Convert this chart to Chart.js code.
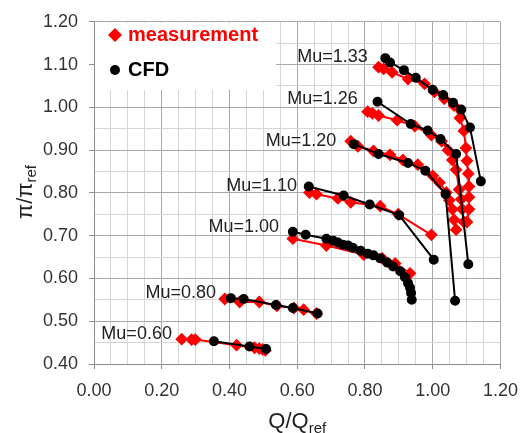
<!DOCTYPE html>
<html>
<head>
<meta charset="utf-8">
<script src="https://cdn.jsdelivr.net/npm/chart.js@4.4.0/dist/chart.umd.min.js"></script>
<style>
html, body { margin: 0; padding: 0; background: #fff; }
</style>
</head>
<body>
<canvas id="mapChart" width="529" height="433"></canvas>
<script>
// speed lines, [Q/Qref, pi/piref] pairs
var speedLines = ['Mu=0.60', 'Mu=0.80', 'Mu=1.00', 'Mu=1.10', 'Mu=1.20', 'Mu=1.26', 'Mu=1.33'];

var meas060 = [[0.259,0.458],[0.288,0.457],[0.299,0.457],[0.421,0.444],[0.474,0.438],[0.488,0.436],[0.498,0.434],[0.506,0.432]];
var meas080 = [[0.386,0.552],[0.430,0.545],[0.488,0.545],[0.540,0.536],[0.590,0.531],[0.619,0.527],[0.657,0.518]];
var meas100 = [[0.587,0.693],[0.686,0.677],[0.796,0.656],[0.851,0.647],[0.889,0.635],[0.933,0.612]];
var meas110 = [[0.636,0.801],[0.657,0.797],[0.720,0.787],[0.758,0.778],[0.845,0.769],[0.898,0.750],[0.996,0.702]];
var meas120 = [[0.758,0.921],[0.779,0.909],[0.825,0.898],[0.874,0.889],[0.912,0.877],[0.956,0.866],[1.000,0.840],[1.020,0.824],[1.040,0.801],[1.049,0.783],[1.058,0.762],[1.063,0.737],[1.069,0.714]];
var meas126 = [[0.808,0.990],[0.822,0.986],[0.840,0.981],[0.895,0.970],[0.947,0.956],[0.996,0.935],[1.026,0.921],[1.045,0.900],[1.058,0.877],[1.069,0.854],[1.078,0.808],[1.084,0.785],[1.087,0.762],[1.092,0.732]];
var meas133 = [[0.840,1.094],[0.855,1.090],[0.880,1.082],[0.927,1.066],[0.976,1.055],[1.005,1.036],[1.034,1.020],[1.063,1.004],[1.080,0.975],[1.092,0.945],[1.098,0.905],[1.101,0.875],[1.105,0.845],[1.107,0.815],[1.107,0.790],[1.107,0.762],[1.101,0.732]];

var cfd060 = [[0.354,0.453],[0.459,0.441],[0.508,0.435]];
var cfd080 = [[0.404,0.554],[0.442,0.552],[0.537,0.538],[0.587,0.531],[0.660,0.518]];
var cfd100 = [[0.587,0.709],[0.625,0.702],[0.686,0.693],[0.706,0.688],[0.720,0.684],[0.735,0.679],[0.750,0.677],[0.764,0.672],[0.787,0.665],[0.808,0.658],[0.825,0.654],[0.845,0.647],[0.866,0.637],[0.883,0.628],[0.904,0.617],[0.918,0.603],[0.927,0.589],[0.933,0.578],[0.936,0.566],[0.938,0.550]];
var cfd110 = [[0.634,0.815],[0.737,0.794],[0.814,0.773],[0.901,0.748],[1.003,0.644]];
var cfd120 = [[0.767,0.914],[0.840,0.891],[0.927,0.870],[0.978,0.852],[1.038,0.797],[1.066,0.548]];
var cfd126 = [[0.837,1.013],[0.935,0.961],[0.985,0.946],[1.023,0.926],[1.069,0.891],[1.105,0.633]];
var cfd133 = [[0.860,1.115],[0.874,1.105],[0.915,1.087],[0.950,1.069],[1.000,1.041],[1.031,1.029],[1.060,1.011],[1.084,0.995],[1.110,0.953],[1.142,0.827]];

var measSets = [meas060, meas080, meas100, meas110, meas120, meas126, meas133];
var cfdSets = [cfd060, cfd080, cfd100, cfd110, cfd120, cfd126, cfd133];

// where each "Mu=" label sits (right end of text, middle), in axis units
var labelQ  = [0.230, 0.360, 0.546, 0.599, 0.715, 0.779, 0.808];
var labelPi = [0.469, 0.566, 0.720, 0.815, 0.921, 1.020, 1.117];

var FONT = '"Liberation Sans", Arial, sans-serif';

function toXY(arr) {
    return arr.map(function (p) { return {x: p[0], y: p[1]}; });
}

var datasets = [];
for (var i = 0; i < speedLines.length; i++) {
    datasets.push({
        label: 'CFD ' + speedLines[i], data: toXY(cfdSets[i]), order: 0,
        borderColor: '#000', backgroundColor: '#000', borderWidth: 2,
        pointStyle: 'circle', pointRadius: 4, showLine: true
    });
    datasets.push({
        label: 'measurement ' + speedLines[i], data: toXY(measSets[i]), order: 1,
        borderColor: '#ff0000', backgroundColor: '#ff0000', borderWidth: 2,
        pointStyle: 'rectRot', pointRadius: 5, showLine: true
    });
}

function isMajorX(v) { return Math.round(v * 100) % 20 === 0; }
function isMajorY(v) { return Math.round(v * 100) % 10 === 0; }

// white legend box over the grid plus the two entries, speed labels, axis titles
var legendBox = {
    id: 'legendBox',
    beforeDatasetsDraw: function (chart) {
        var c = chart.ctx, a = chart.chartArea;
        c.save();
        c.fillStyle = '#fff';
        c.fillRect(a.left + 1, a.top + 1, 181, 67);
        c.font = 'bold 20px ' + FONT;
        c.textBaseline = 'middle';
        c.textAlign = 'left';
        c.fillStyle = '#ff0000';
        c.beginPath();
        c.moveTo(115, 28); c.lineTo(122, 35); c.lineTo(115, 42); c.lineTo(108, 35);
        c.closePath(); c.fill();
        c.fillText('measurement', 128, 35);
        c.fillStyle = '#000';
        c.beginPath(); c.arc(115, 70, 5, 0, Math.PI * 2); c.fill();
        c.fillText('CFD', 128, 70);
        c.restore();
    },
    afterDatasetsDraw: function (chart) {
        var c = chart.ctx, xs = chart.scales.x, ys = chart.scales.y;
        c.save();
        c.font = '18px ' + FONT;
        c.fillStyle = '#222';
        c.textAlign = 'right';
        c.textBaseline = 'middle';
        for (var i = 0; i < speedLines.length; i++) {
            c.fillText(speedLines[i], xs.getPixelForValue(labelQ[i]), ys.getPixelForValue(labelPi[i]));
        }
        c.restore();
    },
    afterDraw: function (chart) {
        var c = chart.ctx, a = chart.chartArea;
        c.save();
        c.fillStyle = '#222';
        c.textBaseline = 'alphabetic';
        c.textAlign = 'left';
        // x title: Q/Q_ref
        c.font = '22px ' + FONT;
        var w1 = c.measureText('Q/Q').width;
        c.font = '15px ' + FONT;
        var w2 = c.measureText('ref').width;
        var x0 = (a.left + a.right) / 2 - (w1 + w2) / 2;
        c.font = '22px ' + FONT;
        c.fillText('Q/Q', x0, 428);
        c.font = '15px ' + FONT;
        c.fillText('ref', x0 + w1, 433);
        // y title: pi/pi_ref
        c.translate(32, 192);
        c.rotate(-Math.PI / 2);
        c.font = '22px ' + FONT;
        w1 = c.measureText('\u03c0/\u03c0').width;
        c.font = '15px ' + FONT;
        w2 = c.measureText('ref').width;
        x0 = -(w1 + w2) / 2;
        c.font = '22px ' + FONT;
        c.fillText('\u03c0/\u03c0', x0, 0);
        c.font = '15px ' + FONT;
        c.fillText('ref', x0 + w1, 4);
        c.restore();
    }
};

var mapChart = new Chart(document.getElementById('mapChart').getContext('2d'), {
    type: 'scatter',
    data: {datasets: datasets},
    options: {
        responsive: false,
        animation: false,
        layout: {padding: {top: 17, right: 22, left: 0, bottom: 0}},
        plugins: {legend: {display: false}, tooltip: {enabled: false}},
        scales: {
            x: {
                type: 'linear', min: 0, max: 1.2,
                afterFit: function (s) { s.height = 69; },
                border: {display: true, color: '#8c8c8c', width: 1},
                grid: {
                    color: function (ctx) { return isMajorX(ctx.tick.value) ? '#a8a8a8' : '#d6d6d6'; },
                    tickColor: function (ctx) { return isMajorX(ctx.tick.value) ? '#8c8c8c' : 'rgba(0,0,0,0)'; },
                    tickLength: 5
                },
                ticks: {
                    stepSize: 0.05, autoSkip: false, maxRotation: 0, padding: 11,
                    color: '#333', font: {family: FONT, size: 18},
                    callback: function (v) { return isMajorX(v) ? v.toFixed(2) : ''; }
                }
            },
            y: {
                type: 'linear', min: 0.4, max: 1.2,
                afterFit: function (s) { s.width = 94; },
                border: {display: true, color: '#8c8c8c', width: 1},
                grid: {
                    color: function (ctx) { return isMajorY(ctx.tick.value) ? '#a8a8a8' : '#d6d6d6'; },
                    tickColor: function (ctx) { return isMajorY(ctx.tick.value) ? '#8c8c8c' : 'rgba(0,0,0,0)'; },
                    tickLength: 5
                },
                ticks: {
                    stepSize: 0.05, autoSkip: false, padding: 11,
                    color: '#333', font: {family: FONT, size: 18},
                    callback: function (v) { return isMajorY(v) ? v.toFixed(2) : ''; }
                }
            }
        }
    },
    plugins: [legendBox]
});
</script>
</body>
</html>
